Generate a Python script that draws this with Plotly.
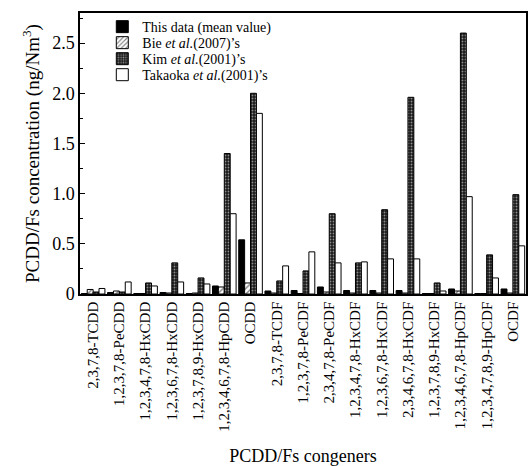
import plotly.graph_objects as go

congeners = ["2,3,7,8-TCDD", "1,2,3,7,8-PeCDD", "1,2,3,4,7,8-HxCDD", "1,2,3,6,7,8-HxCDD",
             "1,2,3,7,8,9-HxCDD", "1,2,3,4,6,7,8-HpCDD", "OCDD", "2,3,7,8-TCDF",
             "1,2,3,7,8-PeCDF", "2,3,4,7,8-PeCDF", "1,2,3,4,7,8-HxCDF", "1,2,3,6,7,8-HxCDF",
             "2,3,4,6,7,8-HxCDF", "1,2,3,7,8,9-HxCDF", "1,2,3,4,6,7,8-HpCDF",
             "1,2,3,4,7,8,9-HpCDF", "OCDF"]

this_data = [0.005, 0.015, 0.005, 0.015, 0.005, 0.08, 0.54, 0.03, 0.035, 0.07, 0.035, 0.035,
             0.035, 0.005, 0.05, 0.005, 0.05]
bie = [0.045, 0.03, 0.005, 0.01, 0.01, 0.07, 0.11, 0.01, 0.005, 0.02, 0.01, 0.01,
       0.01, 0.005, 0.03, 0.005, 0.01]
kim = [0.02, 0.02, 0.11, 0.31, 0.16, 1.40, 2.00, 0.13, 0.23, 0.80, 0.31, 0.84,
       1.96, 0.11, 2.60, 0.39, 0.99]
takaoka = [0.055, 0.12, 0.08, 0.12, 0.10, 0.80, 1.80, 0.28, 0.42, 0.31, 0.32, 0.35,
           0.35, 0.03, 0.97, 0.16, 0.48]

names = ["This data (mean value)", "Bie <i>et al.</i>(2007)\u2019s",
         "Kim <i>et al.</i>(2001)\u2019s", "Takaoka <i>et al.</i>(2001)\u2019s"]

y_ticks = [0, 0.5, 1.0, 1.5, 2.0, 2.5]
y_ticktext = ["0", "0.5", "1.0", "1.5", "2.0", "2.5"]

FONT = "Liberation Serif"
line = dict(color="black", width=1)

fig = go.Figure()
fig.add_trace(go.Bar(x=congeners, y=this_data, name=names[0], legend="legend",
                     marker=dict(color="black", line=line)))
fig.add_trace(go.Bar(x=congeners, y=bie, name=names[1], legend="legend2",
                     marker=dict(color="white", line=line,
                                 pattern=dict(shape="/", fgcolor="black", bgcolor="white",
                                              size=4, solidity=0.35))))
fig.add_trace(go.Bar(x=congeners, y=kim, name=names[2], legend="legend3",
                     marker=dict(color="#333", line=line,
                                 pattern=dict(shape=".", fgcolor="white", bgcolor="#1a1a1a",
                                              size=3, solidity=0.3))))
fig.add_trace(go.Bar(x=congeners, y=takaoka, name=names[3], legend="legend4",
                     marker=dict(color="white", line=line)))

leg_rows = [0.950, 0.893, 0.836, 0.779]
legend_common = dict(x=0.05, xanchor="left", yanchor="middle", bgcolor="rgba(0,0,0,0)",
                     font=dict(family=FONT, size=14, color="black"), itemwidth=30)
layout_legends = {}
for i, key in enumerate(["legend", "legend2", "legend3", "legend4"]):
    layout_legends[key] = dict(legend_common, y=leg_rows[i])

fig.update_layout(
    width=529, height=466,
    margin=dict(l=80, r=1, t=13, b=172),
    paper_bgcolor="white", plot_bgcolor="white",
    barmode="group", bargap=0.1, bargroupgap=0,
    font=dict(family=FONT, color="black"),
    showlegend=True,
    **layout_legends,
)
fig.update_xaxes(
    type="category", range=[-0.5, 16.5], tickangle=-90,
    tickfont=dict(family=FONT, size=15), ticks="",
    showline=True, linecolor="black", linewidth=1.5, mirror=True,
    showgrid=False,
    title=dict(text="PCDD/Fs congeners", font=dict(family=FONT, size=18), standoff=20),
)
fig.update_yaxes(
    range=[0, 2.8], tickvals=y_ticks, ticktext=y_ticktext,
    ticks="inside", ticklen=5, tickcolor="black",
    minor=dict(tickmode="linear", tick0=0, dtick=0.25, ticks="inside", ticklen=3, tickcolor="black"),
    tickfont=dict(family=FONT, size=18),
    showline=True, linecolor="black", linewidth=1.5, mirror=True,
    showgrid=False, zeroline=False,
    title=dict(text="PCDD/Fs concentration (ng/Nm<sup>3</sup>)", font=dict(family=FONT, size=19),
               standoff=8),
)

fig.write_html("out.html")
